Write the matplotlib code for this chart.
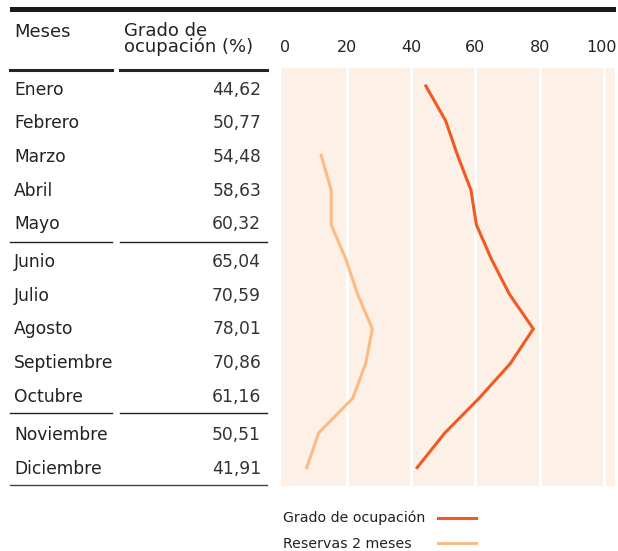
import numpy as np
import matplotlib
matplotlib.use("Agg")
from matplotlib import pyplot as plt
from matplotlib.patches import Rectangle
from matplotlib.lines import Line2D
from matplotlib.transforms import ScaledTranslation

meses = ["Enero", "Febrero", "Marzo", "Abril", "Mayo", "Junio", "Julio",
         "Agosto", "Septiembre", "Octubre", "Noviembre", "Diciembre"]
ocupacion = [44.62, 50.77, 54.48, 58.63, 60.32, 65.04, 70.59, 78.01, 70.86, 61.16, 50.51, 41.91]
reservas = [np.nan, np.nan, 12.1, 15.2, 15.2, 19.8, 23.4, 28.0, 25.9, 21.9, 11.3, 7.6]
xticks = [0, 20, 40, 60, 80, 100]

c_ocup = "#f15a22"
c_res = "#fdbb84"
c_bg = "#fdf0e6"
c_txt = "#222222"

W, H = 618, 551
fig = plt.figure(figsize=(W/100, H/100), dpi=100)

def fx(px):
    return px / W

def fy(py):
    return 1 - py / H

# chart panel
ax = fig.add_axes([fx(281), fy(486), fx(615) - fx(281), fy(68) - fy(486)])
ax.set_facecolor(c_bg)
for s in ax.spines.values():
    s.set_visible(False)
idx = np.arange(len(meses))
# white gridlines (none at 0)
for t in xticks[1:]:
    ax.axvline(t, color="white", lw=2, zorder=1)
ax.plot(reservas, idx, color=c_res, lw=2.2, solid_joinstyle="miter", zorder=3)
ax.plot(ocupacion, idx, color=c_ocup, lw=2.2, solid_joinstyle="miter", zorder=4)
ax.set_xlim(-0.4, 103.4)
ax.set_ylim(11.53, -0.52)
ax.set_yticks([])
ax.set_xticks(xticks)
ax.xaxis.tick_top()
ax.tick_params(axis="x", length=0, pad=9, labelsize=11.5, labelcolor=c_txt)
# nudge the outer labels like the original
labs = ax.get_xticklabels()
labs[0].set_transform(labs[0].get_transform() + ScaledTranslation(3/100, 0, fig.dpi_scale_trans))
labs[-1].set_transform(labs[-1].get_transform() + ScaledTranslation(-3/100, 0, fig.dpi_scale_trans))

# top black bar
fig.add_artist(Rectangle((fx(10), fy(12)), fx(616) - fx(10), fy(7) - fy(12),
                         transform=fig.transFigure, color="#1a1a1a", lw=0))

# table header
fig.text(fx(14), fy(37), "Meses", fontsize=13, color=c_txt, va="baseline")
fig.text(fx(124), fy(52), "Grado de\nocupación (%)", fontsize=13, color=c_txt,
         va="baseline", linespacing=0.85)

def hline(y, x0, x1, lw, color=c_txt):
    fig.add_artist(Line2D([fx(x0), fx(x1)], [fy(y), fy(y)],
                          transform=fig.transFigure, lw=lw, color=color))

hline(69.7, 10, 112, 2.2)
hline(69.7, 120, 267, 2.2)

# table rows
for i, (m, v) in enumerate(zip(meses, ocupacion)):
    y = 89 + 33.5 * i + 5 * (i // 5)
    fig.text(fx(14), fy(y + 6), m, fontsize=12.3, color=c_txt, va="baseline")
    fig.text(fx(261), fy(y + 6), f"{v:.2f}".replace(".", ","), fontsize=12.3,
             color="#333333", va="baseline", ha="right")

for y in (241.7, 413.3):
    hline(y, 10, 112, 1.0)
    hline(y, 120, 267, 1.0)
hline(485, 10, 267, 1.0, "#444444")

# legend
fig.text(fx(283), fy(522), "Grado de ocupación", fontsize=10.2, color=c_txt, va="baseline")
fig.text(fx(283), fy(548), "Reservas 2 meses", fontsize=10.2, color=c_txt, va="baseline")
hline(517.7, 438, 476, 2.2, c_ocup)
hline(542.7, 438, 476, 2.2, c_res)

fig.savefig("out.png", dpi=100)
